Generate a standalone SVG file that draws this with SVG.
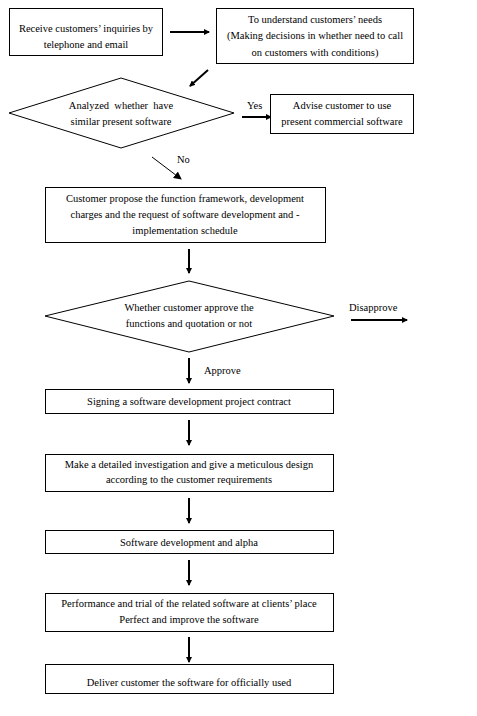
<svg xmlns="http://www.w3.org/2000/svg" width="477" height="716" viewBox="0 0 477 716">
<style>
.box{fill:#fff;stroke:#000;stroke-width:1}
.t{font-family:"Liberation Serif","Times New Roman",serif;font-size:10.5px;fill:#000;text-anchor:middle}
.l{font-family:"Liberation Serif","Times New Roman",serif;font-size:10.5px;fill:#000}
.c{stroke:#000;stroke-width:2;fill:none}
.thin{stroke:#000;stroke-width:1;fill:none}
</style>
<defs>
<marker id="ah" markerWidth="6" markerHeight="6" refX="5" refY="3" orient="auto" markerUnits="userSpaceOnUse" viewBox="0 0 6 6">
<path d="M0,0 L6,3 L0,6 Z" fill="#000"/>
</marker>
<marker id="ah2" markerWidth="8" markerHeight="8" refX="7" refY="4" orient="auto" markerUnits="userSpaceOnUse" viewBox="0 0 8 8">
<path d="M0,0 L8,4 L0,8 Z" fill="#000"/>
</marker>
</defs>
<rect width="477" height="716" fill="#fff"/>
<g id="connectors">
<line class="c" x1="170" y1="32" x2="209" y2="32" marker-end="url(#ah)"/>
<line class="c" x1="208" y1="70" x2="190" y2="86" marker-end="url(#ah)"/>
<line class="c" x1="242" y1="117" x2="271" y2="117" marker-end="url(#ah)"/>
<line class="thin" x1="152" y1="157" x2="181" y2="179" marker-end="url(#ah2)"/>
<line class="c" x1="189" y1="249" x2="189" y2="273" marker-end="url(#ah)"/>
<line class="c" x1="351" y1="320" x2="407" y2="320" marker-end="url(#ah)"/>
<line class="c" x1="189" y1="358" x2="189" y2="383" marker-end="url(#ah)"/>
<line class="c" x1="189" y1="420" x2="189" y2="445" marker-end="url(#ah)"/>
<line class="c" x1="189" y1="498" x2="189" y2="523" marker-end="url(#ah)"/>
<line class="c" x1="189" y1="560" x2="189" y2="585" marker-end="url(#ah)"/>
<line class="c" x1="189" y1="637" x2="189" y2="662" marker-end="url(#ah)"/>
<text class="l" x="247" y="109">Yes</text>
<text class="l" x="177" y="163">No</text>
<text class="l" x="349" y="311">Disapprove</text>
<text class="l" x="204" y="374">Approve</text>
</g>
<g id="n1">
<rect class="box" x="9.5" y="8.5" width="153" height="47"/>
<text class="t" x="86" y="32">Receive customers’ inquiries by</text>
<text class="t" x="86" y="48">telephone and email</text>
</g>
<g id="n2">
<rect class="box" x="216.5" y="8.5" width="197" height="55"/>
<text class="t" x="315" y="23">To understand customers’ needs</text>
<text class="t" x="315" y="39">(Making decisions in whether need to call</text>
<text class="t" x="315" y="56">on customers with conditions)</text>
</g>
<g id="d1">
<polygon class="box" points="9,113 121,78 234,113 121,148"/>
<text class="t" x="121" y="109" xml:space="preserve">Analyzed  whether  have</text>
<text class="t" x="121" y="125">similar present software</text>
</g>
<g id="n3">
<rect class="box" x="270.5" y="94.5" width="143" height="39"/>
<text class="t" x="342" y="109">Advise customer to use</text>
<text class="t" x="342" y="125">present commercial software</text>
</g>
<g id="n4">
<rect class="box" x="45.5" y="187.5" width="280" height="55"/>
<text class="t" x="185" y="202">Customer propose the function framework, development</text>
<text class="t" x="185" y="218">charges and the request of software development and -</text>
<text class="t" x="185" y="234">implementation schedule</text>
</g>
<g id="d2">
<polygon class="box" points="45,316 189,281 334,316 189,352"/>
<text class="t" x="189" y="311">Whether customer approve the</text>
<text class="t" x="189" y="327">functions and quotation or not</text>
</g>
<g id="n5">
<rect class="box" x="45.5" y="389.5" width="288" height="24"/>
<text class="t" x="189" y="405">Signing a software development project contract</text>
</g>
<g id="n6">
<rect class="box" x="45.5" y="454.5" width="288" height="37"/>
<text class="t" x="189" y="468">Make a detailed investigation and give a meticulous design</text>
<text class="t" x="189" y="483">according to the customer requirements</text>
</g>
<g id="n7">
<rect class="box" x="45.5" y="530.5" width="288" height="23"/>
<text class="t" x="189" y="546">Software development and alpha</text>
</g>
<g id="n8">
<rect class="box" x="45.5" y="593.5" width="288" height="38"/>
<text class="t" x="189" y="607">Performance and trial of the related software at clients’ place</text>
<text class="t" x="189" y="623">Perfect and improve the software</text>
</g>
<g id="n9">
<rect class="box" x="45.5" y="664.5" width="288" height="29"/>
<text class="t" x="189" y="686">Deliver customer the software for officially used</text>
</g>
</svg>
